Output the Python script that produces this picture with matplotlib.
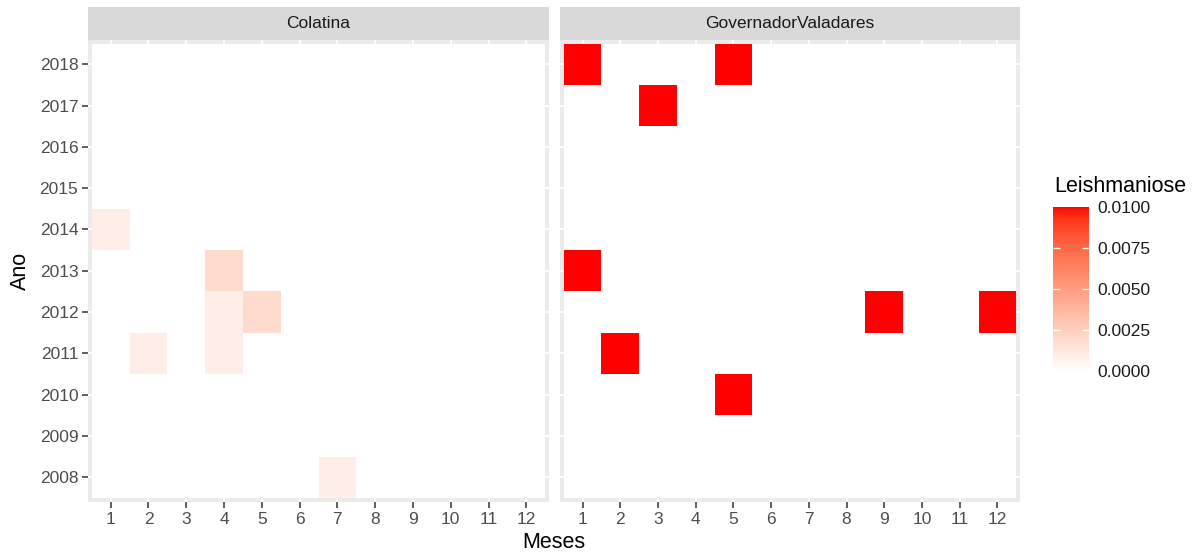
import numpy as np
import matplotlib
matplotlib.use('Agg')
import matplotlib.pyplot as plt
from matplotlib.colors import ListedColormap, Normalize

plt.rcParams['font.family'] = ['Liberation Sans', 'DejaVu Sans']

months = list(range(1, 13))
years = list(range(2008, 2019))
cities = ['Colatina', 'GovernadorValadares']

# non-zero cells per city (everything else is 0)
col_years = [2014, 2013, 2012, 2012, 2011, 2011, 2008]
col_months = [1, 4, 4, 5, 2, 4, 7]
col_values = [0.0009, 0.0019, 0.0009, 0.0019, 0.0009, 0.0009, 0.0009]

gv_years = [2018, 2018, 2017, 2013, 2012, 2012, 2011, 2010]
gv_months = [1, 5, 3, 1, 9, 12, 2, 5]
gv_values = [0.01, 0.01, 0.01, 0.01, 0.01, 0.01, 0.01, 0.01]

vmin, vmax = 0.0, 0.01
legend_ticks = [0.0, 0.0025, 0.005, 0.0075, 0.01]


def srgb_to_lab(rgb):
    rgb = np.asarray(rgb, float)
    lin = np.where(rgb <= 0.04045, rgb / 12.92, ((rgb + 0.055) / 1.055) ** 2.4)
    m = np.array([[0.4124, 0.3576, 0.1805],
                  [0.2126, 0.7152, 0.0722],
                  [0.0193, 0.1192, 0.9505]])
    xyz = m @ lin / np.array([0.95047, 1.0, 1.08883])
    f = np.where(xyz > 0.008856, np.cbrt(xyz), 7.787 * xyz + 16 / 116)
    return np.array([116 * f[1] - 16, 500 * (f[0] - f[1]), 200 * (f[1] - f[2])])


def lab_to_srgb(lab):
    L, a, b = lab
    fy = (L + 16) / 116
    fx = fy + a / 500
    fz = fy - b / 200
    f = np.array([fx, fy, fz])
    xyz = np.where(f ** 3 > 0.008856, f ** 3, (f - 16 / 116) / 7.787)
    xyz = xyz * np.array([0.95047, 1.0, 1.08883])
    m = np.array([[3.2406, -1.5372, -0.4986],
                  [-0.9689, 1.8758, 0.0415],
                  [0.0557, -0.2040, 1.0570]])
    lin = m @ xyz
    rgb = np.where(lin <= 0.0031308, 12.92 * lin, 1.055 * np.clip(lin, 0, None) ** (1 / 2.4) - 0.055)
    return np.clip(rgb, 0, 1)


# white -> red gradient interpolated in Lab space
lab_lo = srgb_to_lab([1, 1, 1])
lab_hi = srgb_to_lab([1, 0, 0])
cmap = ListedColormap([lab_to_srgb(lab_lo + t * (lab_hi - lab_lo)) for t in np.linspace(0, 1, 256)])
norm = Normalize(vmin, vmax)


def build_grid(ys, ms, vs):
    grid = np.zeros((len(years), len(months)))
    for y, m, v in zip(ys, ms, vs):
        grid[years.index(y), months.index(m)] = v
    return grid


grids = [build_grid(col_years, col_months, col_values),
         build_grid(gv_years, gv_months, gv_values)]

W, H = 1203, 555
fig = plt.figure(figsize=(W / 100, H / 100), dpi=100)

panel_x = [(88, 549), (560, 1020)]
panel_top, panel_bot = 39.5, 502
strip_top = 7

tick_fs = 12.5
title_fs = 15.5

for i, (city, grid) in enumerate(zip(cities, grids)):
    x0, x1 = panel_x[i]
    ax = fig.add_axes([x0 / W, 1 - panel_bot / H, (x1 - x0) / W, (panel_bot - panel_top) / H])
    ax.set_facecolor('#EBEBEB')
    ax.set_axisbelow(True)
    ax.grid(True, color='white', linewidth=1.3)
    ax.pcolormesh(np.arange(0.5, 13.5), np.arange(2007.5, 2019.5), grid,
                  cmap=cmap, norm=norm, shading='flat', zorder=2)
    ax.set_xlim(0.4, 12.6)
    ax.set_ylim(2007.4, 2018.6)
    ax.set_xticks(months)
    ax.set_xticklabels([str(m) for m in months])
    ax.set_yticks(years)
    if i == 0:
        ax.set_yticklabels([str(y) for y in years])
    else:
        ax.tick_params(axis='y', left=False, labelleft=False)
    ax.tick_params(colors='#333333', labelcolor='#4D4D4D', labelsize=tick_fs,
                   length=4, width=1.1, pad=3)
    for s in ax.spines.values():
        s.set_visible(False)

    # facet strip
    sax = fig.add_axes([x0 / W, 1 - panel_top / H, (x1 - x0) / W, (panel_top - strip_top) / H])
    sax.set_facecolor('#D9D9D9')
    sax.set_xticks([])
    sax.set_yticks([])
    for s in sax.spines.values():
        s.set_visible(False)
    sax.text(0.5, 0.48, city, ha='center', va='center', fontsize=tick_fs, color='#1A1A1A',
             transform=sax.transAxes)

fig.text((88 + 1020) / 2 / W, 1 - 543 / H, 'Meses', ha='center', va='center', fontsize=title_fs)
fig.text(20 / W, 1 - 271 / H, 'Ano', ha='center', va='center', rotation=90, fontsize=title_fs)

# colour bar legend
cax = fig.add_axes([1053 / W, 1 - 371 / H, 36 / W, (371 - 207) / H])
gradient = np.linspace(vmin, vmax, 256).reshape(-1, 1)
cax.imshow(gradient, aspect='auto', cmap=cmap, norm=norm, origin='lower',
           extent=[0, 1, vmin, vmax])
cax.set_xlim(0, 1)
cax.set_ylim(vmin, vmax)
cax.set_xticks([])
for t in legend_ticks[1:-1]:
    cax.plot([0, 0.2], [t, t], color='white', lw=1, solid_capstyle='butt')
    cax.plot([0.8, 1], [t, t], color='white', lw=1, solid_capstyle='butt')
cax.yaxis.tick_right()
cax.set_yticks(legend_ticks)
cax.set_yticklabels(['%.4f' % t for t in legend_ticks])
cax.tick_params(axis='y', length=0, pad=6, labelsize=tick_fs, labelcolor='#1A1A1A')
for s in cax.spines.values():
    s.set_visible(False)
fig.text(1054 / W, 1 - 187 / H, 'Leishmaniose', ha='left', va='center', fontsize=title_fs)

plt.savefig('out.png', dpi=100)
plt.close()
